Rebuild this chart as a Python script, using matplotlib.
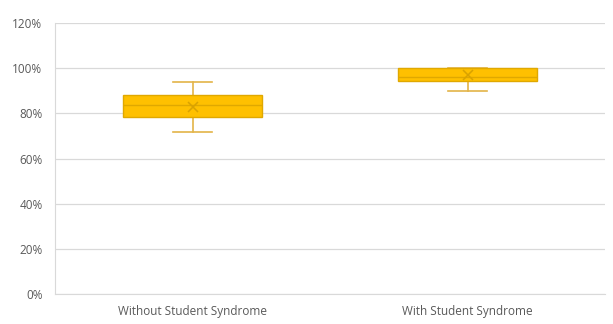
import matplotlib
matplotlib.use("Agg")
import matplotlib.pyplot as plt

categories = ["Without Student Syndrome", "With Student Syndrome"]
whisker_low = [0.716, 0.899]
q1 = [0.783, 0.945]
median = [0.837, 0.962]
q3 = [0.881, 1.000]
whisker_high = [0.937, 1.000]
mean = [0.830, 0.968]
y_ticks = [0, 0.2, 0.4, 0.6, 0.8, 1.0, 1.2]
y_tick_labels = ["0%", "20%", "40%", "60%", "80%", "100%", "120%"]

plt.rcParams['font.family'] = ['Open Sans', 'DejaVu Sans']

fig = plt.figure(figsize=(6.13, 3.24), dpi=100)
ax = fig.add_axes([55/613, 30/324, 550/613, 271/324])

stats = []
for i, c in enumerate(categories):
    stats.append(dict(label=c, whislo=whisker_low[i], q1=q1[i], med=median[i],
                      q3=q3[i], whishi=whisker_high[i], mean=mean[i], fliers=[]))

fill = "#FFC000"
edge = "#E0A800"
wcol = "#E3B448"
ax.bxp(stats, positions=[0, 1], widths=0.505, patch_artist=True, showmeans=True,
       boxprops=dict(facecolor=fill, edgecolor=edge, linewidth=1.0, zorder=4),
       medianprops=dict(color=edge, linewidth=1.0, zorder=5),
       whiskerprops=dict(color=wcol, linewidth=1.2, zorder=3),
       capprops=dict(color=wcol, linewidth=1.2, zorder=3),
       capwidths=0.145,
       meanprops=dict(marker="x", markeredgecolor="#D9A200", markersize=6.5,
                      markeredgewidth=1.1, zorder=6))

ax.set_xlim(-0.5, 1.5)
ax.set_ylim(0, 1.2)
ax.set_yticks(y_ticks)
ax.set_yticklabels(y_tick_labels)
ax.grid(axis="y", color="#D9D9D9", linewidth=0.9, zorder=0)
ax.set_axisbelow(True)
for s in ["top", "right"]:
    ax.spines[s].set_visible(False)
ax.spines["left"].set_color("#D9D9D9")
ax.spines["bottom"].set_color("#D9D9D9")
ax.tick_params(axis="both", length=0, colors="#595959", labelsize=8.5)
ax.tick_params(axis="y", pad=9)
ax.tick_params(axis="x", pad=8)

fig.savefig("out.png", dpi=100)
